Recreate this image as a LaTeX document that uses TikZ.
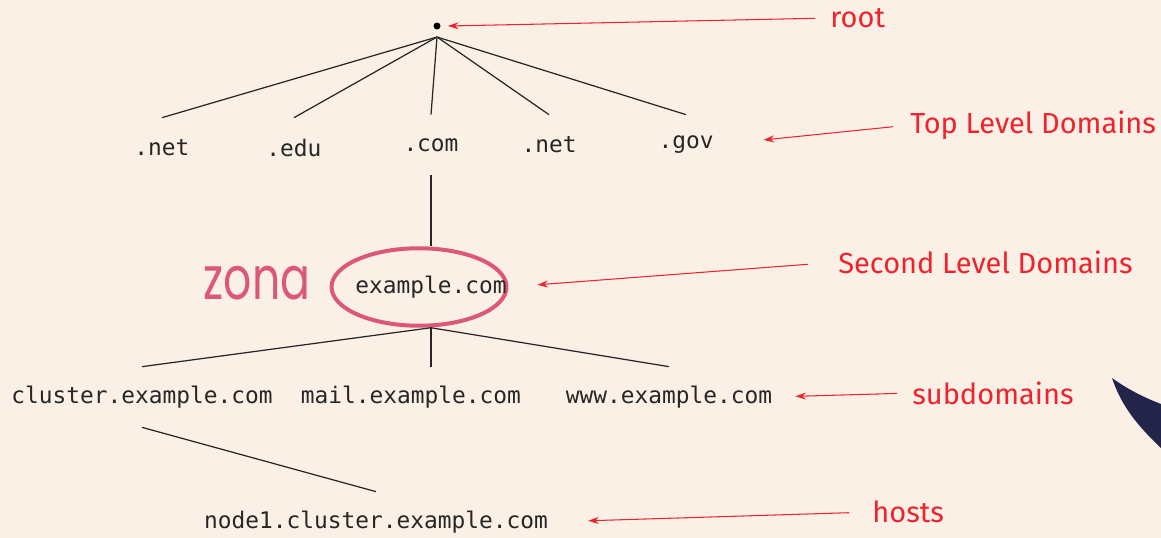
\documentclass[tikz,border=0pt]{standalone}
\usepackage{fontspec}
\setmonofont{DejaVu Sans Mono}
\newfontfamily\notefont{Fira Sans}
\newfontfamily\handfont{Poppins}
\usetikzlibrary{arrows.meta,shapes.geometric}

\definecolor{paper}{RGB}{251,240,230}
\definecolor{notered}{RGB}{240,35,45}
\definecolor{zonapink}{RGB}{220,88,122}
\definecolor{navy}{RGB}{35,36,74}

\tikzset{
  dname/.style={font=\ttfamily\fontsize{13}{15}\selectfont, text=black!85, minimum height=1.2cm, inner sep=0pt},
  lvlnote/.style={font=\notefont\fontsize{16.5}{19}\selectfont, text=notered, anchor=west, inner sep=0pt},
  pointer/.style={notered, line width=0.6pt, -{Stealth[length=6pt,width=4pt]}},
  branch/.style={black!85, line width=0.7pt},
  zonering/.style={ellipse, draw=zonapink, line width=0.08cm, minimum width=3.5cm, minimum height=1.55cm, inner sep=0pt},
}

\begin{document}
\begin{tikzpicture}[x=0.02cm, y=-0.02cm]

    \fill[paper] (0,0) rectangle (1161,538);
    \useasboundingbox (0,0) rectangle (1161,538);

    \fill[navy] (1112,378) .. controls (1130,391) and (1148,399) .. (1161,404)
        -- (1161,448) .. controls (1140,428) and (1122,408) .. (1112,378) -- cycle;

    \node[circle, fill=black, inner sep=0pt, minimum size=0.14cm, outer sep=0.15cm] (root) at (437,26) {};

    \node[dname] (net1) at (162,148) {.net};
    \node[dname] (edu) at (294,148) {.edu};
    \node[dname] (com) at (431,145) {.com};
    \node[dname] (net2) at (549,145) {.net};
    \node[dname] (gov) at (686,145) {.gov};

    \foreach \t in {net1,edu,com,net2,gov}
        \draw[branch] (root.south) -- (\t.north);

    \node[zonering] (zone) at (419,287) {};
    \node[dname] (ex) at (431,287) {example.com};
    \node[font=\handfont\fontsize{34}{36}\selectfont, text=zonapink, inner sep=0pt] (zona) at (257,283) {\scalebox{0.74}[1]{zona}};

    \draw[branch] (com.south) -- (com.south |- zone.north);

    \node[dname] (cluster) at (142,397) {cluster.example.com};
    \node[dname] (mail) at (411,397) {mail.example.com};
    \node[dname] (www) at (669,397) {www.example.com};
    \node[dname] (node1) at (376,522) {node1.cluster.example.com};

    \draw[branch] (ex.center |- zone.south) -- (cluster.north);
    \draw[branch] (ex.center |- zone.south) -- (ex.center |- mail.north);
    \draw[branch] (ex.center |- zone.south) -- (www.north);
    \draw[branch] (cluster.south) -- (node1.north);

    \node[lvlnote] (rootnote) at (830,18) {root};
    \node[lvlnote] (tldnote) at (910,125) {Top Level Domains};
    \node[lvlnote] (sldnote) at (838,262) {Second Level Domains};
    \node[lvlnote] (subnote) at (912,393) {subdomains};
    \node[lvlnote] (hostnote) at (872,512) {hosts};

    \draw[pointer, shorten <=0.3cm] (rootnote.west) -- (root.east);
    \draw[pointer, shorten <=0.34cm, shorten >=1.0cm] (tldnote.west) -- (gov.east);
    \draw[pointer, shorten <=0.6cm, shorten >=0.58cm] (sldnote.west) -- (zone.east);
    \draw[pointer, shorten <=0.3cm, shorten >=0.46cm] (subnote.west) -- (www.east);
    \draw[pointer, shorten <=0.46cm, shorten >=0.8cm] (hostnote.west) -- (node1.east);

\end{tikzpicture}
\end{document}
